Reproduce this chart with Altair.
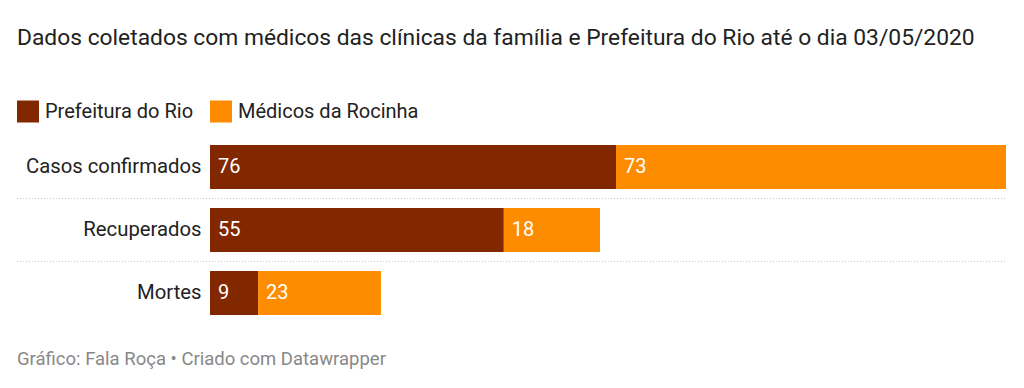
import altair as alt
import pandas as pd

categories = ["Casos confirmados", "Recuperados", "Mortes"]
prefeitura = [76, 55, 9]
medicos = [73, 18, 23]
series_names = ["Prefeitura do Rio", "Médicos da Rocinha"]
colors = ["#822800", "#fe8c00"]

rows = []
for i, c in enumerate(categories):
    rows.append({"categoria": c, "fonte": series_names[0], "ordem": 0, "valor": prefeitura[i]})
    rows.append({"categoria": c, "fonte": series_names[1], "ordem": 1, "valor": medicos[i]})
df = pd.DataFrame(rows)
sep_df = pd.DataFrame({"categoria": categories[1:]})

FONT = "Roboto"
W, H = 796, 189
STEP = H / 3
PI = 19 / 63

y_enc = alt.Y("categoria:N", sort=categories,
              scale=alt.Scale(paddingInner=PI, paddingOuter=PI / 2),
              axis=alt.Axis(title=None, ticks=False, domain=False, labelFontSize=20.3,
                            labelFont=FONT, labelColor="#222222", labelPadding=9,
                            labelLimit=300))

base = alt.Chart(df).transform_stack(
    stack="valor", groupby=["categoria"], as_=["x0", "x1"],
    sort=[alt.SortField("ordem", order="ascending")]
)

bars = base.mark_bar(stroke=None).encode(
    y=y_enc,
    x=alt.X("x0:Q", scale=alt.Scale(domain=[0, 149], nice=False), axis=None),
    x2="x1:Q",
    color=alt.Color("fonte:N", scale=alt.Scale(domain=series_names, range=colors),
                    sort=series_names,
                    legend=alt.Legend(title=None, orient="none", legendX=-193, legendY=-35,
                                      direction="horizontal", symbolType="square",
                                      symbolSize=484, symbolStrokeWidth=0, symbolOpacity=1,
                                      labelFontSize=20, labelFont=FONT, labelColor="#222222",
                                      labelOffset=6, columnPadding=16, labelLimit=400)),
)

labels = base.mark_text(align="left", baseline="middle", dx=8, fontSize=20, font=FONT,
                        color="white").encode(
    y=alt.Y("categoria:N", sort=categories),
    x="x0:Q",
    text="valor:Q",
)

seps = alt.Chart(sep_df).mark_rule(strokeDash=[1, 2], color="#c8c8c8", strokeWidth=1).encode(
    y=alt.Y("categoria:N", sort=categories),
    yOffset=alt.value(-9.5),
    x=alt.value(-193),
    x2=alt.value(W),
)

footer = alt.Chart(pd.DataFrame({"t": ["Gráfico: Fala Roça • Criado com Datawrapper"]})).mark_text(
    align="left", baseline="alphabetic", fontSize=18.5, font=FONT, color="#888888"
).encode(x=alt.value(-193), y=alt.value(229.5), text="t:N")

chart = alt.layer(bars, labels, seps, footer).properties(
    width=W, height=H,
    title=alt.TitleParams("Dados coletados com médicos das clínicas da família e Prefeitura do Rio até o dia 03/05/2020",
                          anchor="start", frame="group", dx=-193, offset=51, fontSize=22.8,
                          font=FONT, fontWeight="normal", color="#222222"),
    autosize=alt.AutoSizeParams(type="none"),
    padding={"left": 202, "top": 127.5, "right": 10, "bottom": 55.5},
).configure_view(stroke=None)

chart.save("out.html", embed_options={"renderer": "svg", "actions": False})
